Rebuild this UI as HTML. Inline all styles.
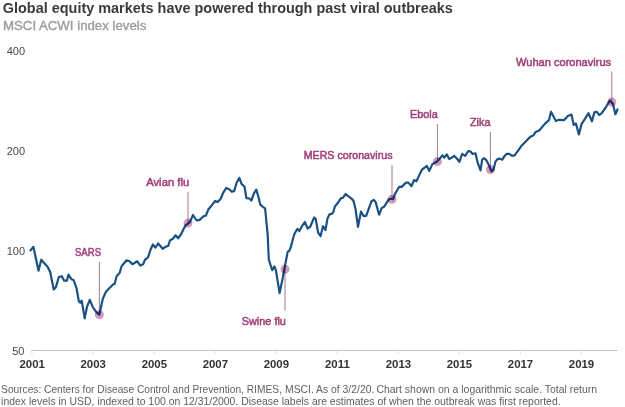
<!DOCTYPE html>
<html><head><meta charset="utf-8"><style>
html,body{margin:0;padding:0;background:#fff;width:625px;height:407px;overflow:hidden}
svg{position:absolute;left:0;top:0;font-family:"Liberation Sans",sans-serif}
</style></head><body>
<svg width="625" height="407" viewBox="0 0 625 407">
<text x="2.8" y="12.7" font-size="14.5" font-weight="bold" fill="#3a3a3a" textLength="450" lengthAdjust="spacingAndGlyphs">Global equity markets have powered through past viral outbreaks</text>
<text x="3" y="30.1" font-size="12" fill="#9c9c9c" stroke="#9c9c9c" stroke-width="0.35" textLength="143.3" lengthAdjust="spacingAndGlyphs">MSCI ACWI index levels</text>
<g font-size="11" fill="#4a4a4a" text-anchor="end">
<text x="25" y="55">400</text><text x="25" y="155">200</text><text x="25" y="255">100</text><text x="24.5" y="355">50</text>
</g>
<g stroke="#c4c4c4" stroke-width="1">
<line x1="31" y1="350.5" x2="617.5" y2="350.5"/><line x1="31.9" y1="351" x2="31.9" y2="354.5" stroke="#dedede"/><line x1="92.9" y1="351" x2="92.9" y2="354.5" stroke="#dedede"/><line x1="154.0" y1="351" x2="154.0" y2="354.5" stroke="#dedede"/><line x1="215.0" y1="351" x2="215.0" y2="354.5" stroke="#dedede"/><line x1="276.0" y1="351" x2="276.0" y2="354.5" stroke="#dedede"/><line x1="337.1" y1="351" x2="337.1" y2="354.5" stroke="#dedede"/><line x1="398.1" y1="351" x2="398.1" y2="354.5" stroke="#dedede"/><line x1="459.1" y1="351" x2="459.1" y2="354.5" stroke="#dedede"/><line x1="520.2" y1="351" x2="520.2" y2="354.5" stroke="#dedede"/><line x1="581.2" y1="351" x2="581.2" y2="354.5" stroke="#dedede"/>
</g>
<g font-size="11.4" font-weight="bold" fill="#333"><text x="32.2" y="367.7" text-anchor="middle">2001</text><text x="93.2" y="367.7" text-anchor="middle">2003</text><text x="154.3" y="367.7" text-anchor="middle">2005</text><text x="215.3" y="367.7" text-anchor="middle">2007</text><text x="276.3" y="367.7" text-anchor="middle">2009</text><text x="337.4" y="367.7" text-anchor="middle">2011</text><text x="398.4" y="367.7" text-anchor="middle">2013</text><text x="459.4" y="367.7" text-anchor="middle">2015</text><text x="520.5" y="367.7" text-anchor="middle">2017</text><text x="581.5" y="367.7" text-anchor="middle">2019</text></g>
<g stroke="#a07a92" stroke-width="1"><line x1="99.4" y1="262" x2="99.4" y2="314.8"/><line x1="188.0" y1="192" x2="188.0" y2="223.1"/><line x1="285.0" y1="269.3" x2="285.0" y2="310.3"/><line x1="392.0" y1="165" x2="392.0" y2="199.2"/><line x1="437.4" y1="124" x2="437.4" y2="161.6"/><line x1="490.4" y1="132" x2="490.4" y2="169.6"/><line x1="611.8" y1="71.5" x2="611.8" y2="102.0"/></g>
<polyline points="30.5,250.4 33.4,246.8 38.5,270.7 41.3,259.7 47.7,267 50.2,272 53.7,289.5 55.9,287.3 58.8,277 61.8,276.2 64,280.6 67,280.6 68.4,274.7 71.4,279.2 73.6,280 76.5,288 78.8,301.3 80.2,302.8 81.7,300.6 84.7,318.3 86.9,307.2 89.8,299.8 92.8,307.2 96.5,312.4 99.4,314.6 101.6,304.2 102.9,298.6 105.9,291.7 109.8,287.8 112.8,284.8 114.7,283.8 116.7,276 119.6,273 121.6,266.2 126.5,260.3 129.5,261.3 132.4,264.2 137.3,261.3 140.3,265.6 143.2,264.2 144.9,259.8 148,257.4 150.4,250 152.9,244.5 155.4,247.6 158.2,243.5 162.7,248.8 165.2,247 168.3,245.7 170.1,240.2 172.6,239 175.6,235.3 178.1,238.3 181.2,234 183.6,229.1 185.5,225.4 187.9,223.6 190,221.8 193,215 196.7,220.5 199.7,219.9 203.4,216.2 205.9,215.6 208.3,209.5 211.4,205.8 215.1,200.9 217.6,202.1 220.6,199 223.1,192.9 226.2,188 229.2,189.2 231.7,191.7 234.1,191.1 236.6,182.8 239.4,177.9 241.5,183.8 244.5,186.7 246.4,198.1 249.4,198.5 251.3,200.5 254.3,192.6 256.3,189.6 258.6,197.5 260.2,204.4 262.2,206.3 265.1,208.3 267.7,234.8 268.8,259.5 270.5,265 272.2,270.2 274.4,266.5 275.9,270.2 279.6,293.1 282.5,279.1 284.7,267.3 287.7,251.8 289.2,251.1 291,246.5 292.5,240.5 294.3,234.3 297.4,228.8 299.2,231.2 302.3,225.7 304.8,222 307.7,228.6 310.2,226.7 314.2,217.4 315.7,219 318.1,232.6 320.6,236 323,226.2 325.5,230.1 327.4,218.8 329.4,214.4 331.9,213.9 333.3,212 334.9,206.5 337.9,202.8 340.8,198.4 343,197.7 345.7,194 348.2,196.2 351.2,198.4 353.4,200.6 355.6,209.5 358,226.8 361,211.6 363.6,215.9 366.2,215.9 371.4,201.3 373.9,199.9 375.7,202.2 379.1,214.7 381.7,208.2 384.3,206.5 388.6,199.6 391.1,198.7 392.9,199.2 395.5,193 399.2,186.9 401.7,186.9 406,182.6 408.4,182.6 411.5,186.2 414,180.1 416.4,181.3 419.5,174.6 421.9,169.7 426.9,166 429.3,170.9 432.4,164.1 436.7,161.7 439.8,158.6 442.5,155.3 444.3,157.7 446.8,154.4 449.2,159 451.7,157.7 454.1,155.9 456.6,158.3 459.4,161.8 462.1,154 465.2,155.9 468.3,151 470.7,151.6 472.6,154 475.6,153.4 477.5,162 480.5,170.4 482.2,159.7 483.7,158.2 486.1,159.7 488.6,164.6 491.5,171.4 493.5,169.5 495.5,161.6 497.4,159.2 499.9,158.7 502.3,159.7 504.8,155.7 506.7,153.9 509.3,153.9 511.8,155.6 514.4,155.6 517,152.2 521.3,146.1 524.5,142.8 527.4,139.8 530.8,136.4 533.3,135.4 535.7,131.9 539.2,130.5 545.1,123.6 549,120.1 551,111.8 555.9,121.1 559,119.8 564.2,120.1 567.8,116.1 571.5,114.6 573.7,124.9 575.9,123.5 578.9,134.5 581.5,124.2 584.8,119.1 588.5,113.2 591.9,121.3 594.4,112.4 596.6,111.7 599.2,115.1 601.7,113.2 605.4,108 609.8,100.6 612.8,103.6 615.4,114.2 617.5,109.5" fill="none" stroke="#1a5183" stroke-width="2.2" stroke-linejoin="round" stroke-linecap="round"/>
<circle cx="99.4" cy="314.8" r="4.5" fill="#d898c0" style="mix-blend-mode:multiply"/><circle cx="188.0" cy="223.1" r="4.5" fill="#d898c0" style="mix-blend-mode:multiply"/><circle cx="285.0" cy="269.3" r="4.5" fill="#d898c0" style="mix-blend-mode:multiply"/><circle cx="392.0" cy="199.2" r="4.5" fill="#d898c0" style="mix-blend-mode:multiply"/><circle cx="437.4" cy="161.6" r="4.5" fill="#d898c0" style="mix-blend-mode:multiply"/><circle cx="490.4" cy="169.6" r="4.5" fill="#d898c0" style="mix-blend-mode:multiply"/><circle cx="611.8" cy="102.0" r="4.5" fill="#d898c0" style="mix-blend-mode:multiply"/>
<g font-size="10.5" fill="#a0407a" stroke="#a0407a" stroke-width="0.5"><text x="75" y="256" textLength="26" lengthAdjust="spacingAndGlyphs">SARS</text><text x="146.2" y="186.1" textLength="43" lengthAdjust="spacingAndGlyphs">Avian flu</text><text x="241.7" y="324.7" textLength="44.2" lengthAdjust="spacingAndGlyphs">Swine flu</text><text x="303.7" y="158.5" textLength="88.8" lengthAdjust="spacingAndGlyphs">MERS coronavirus</text><text x="409.9" y="117.9" textLength="28" lengthAdjust="spacingAndGlyphs">Ebola</text><text x="470" y="125.6" textLength="20.4" lengthAdjust="spacingAndGlyphs">Zika</text><text x="516.1" y="65.7" textLength="95" lengthAdjust="spacingAndGlyphs">Wuhan coronavirus</text></g>
<g font-size="10.1" fill="#5f5f5f">
<text x="1.1" y="392.7" textLength="280.7" lengthAdjust="spacingAndGlyphs">Sources: Centers for Disease Control and Prevention, RIMES,</text><text x="285" y="392.7" textLength="89.3" lengthAdjust="spacingAndGlyphs">MSCI. As of 3/2/20.</text><text x="376.4" y="392.7" textLength="220.7" lengthAdjust="spacingAndGlyphs">Chart shown on a logarithmic scale. Total return</text>
<text x="1.1" y="404.6" textLength="559.5" lengthAdjust="spacingAndGlyphs">index levels in USD, indexed to 100 on 12/31/2000. Disease labels are estimates of when the outbreak was first reported.</text>
</g>
</svg>
</body></html>
